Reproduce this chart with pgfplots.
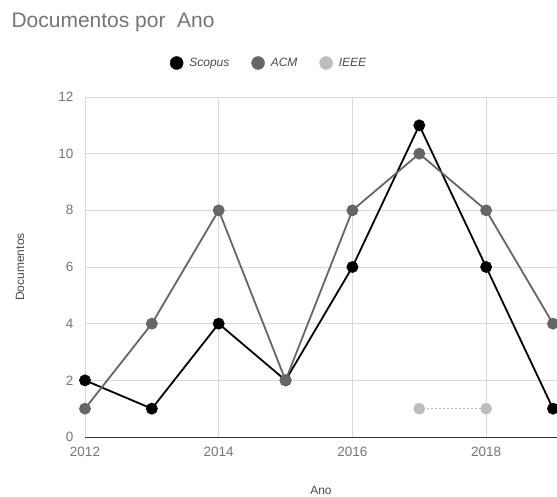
\documentclass[border=0pt]{standalone}
\usepackage{pgfplots}
\pgfplotsset{compat=1.18}
\usepackage{fontspec}
\setmainfont{Liberation Sans}

\definecolor{scopus}{HTML}{000000}
\definecolor{acm}{HTML}{666666}
\definecolor{ieee}{HTML}{BDBDBD}
\definecolor{gridc}{HTML}{D9D9D9}
\definecolor{tickc}{HTML}{757575}
\definecolor{labelc}{HTML}{4A4A4A}

\begin{document}
\begin{tikzpicture}
% page frame: plot area spans (0,0)--(472pt,340pt)
\useasboundingbox (-85pt,-59pt) rectangle (472pt,437pt);
\begin{axis}[
  at={(0pt,0pt)}, anchor=south west,
  scale only axis, width=472pt, height=340pt,
  xmin=2012, xmax=2019.06, ymin=0, ymax=12,
  xtick={2012,2014,2016,2018}, ytick={0,2,...,12},
  xticklabel style={/pgf/number format/1000 sep={}, color=tickc, font=\fontsize{13.5}{15}\selectfont, yshift=-7pt},
  yticklabel style={color=tickc, font=\fontsize{13.5}{15}\selectfont, xshift=-8pt},
  /pgf/number format/assume math mode=true,
  major tick length=0pt,
  axis line style={draw=none},
  grid=major,
  major grid style={color=gridc, line width=0.9pt},
  clip=false,
  xlabel={Ano}, ylabel={Documentos},
  every axis x label/.style={at={(axis description cs:0.5,0)}, anchor=center, yshift=-53pt, font=\fontsize{12}{14}\selectfont, color=labelc},
  every axis y label/.style={at={(axis description cs:0,0.5)}, anchor=center, rotate=90, yshift=65pt, font=\fontsize{12}{14}\selectfont, color=labelc},
  legend columns=3,
  legend style={at={(rel axis cs:0.39,1.1)}, anchor=center, draw=none, fill=none,
    font=\itshape\fontsize{12}{14}\selectfont, text=labelc,
    /tikz/every even column/.style={column sep=20pt}},
  legend cell align=left,
]
\addlegendimage{legend image code/.code={\fill[scopus] (6.5pt,0pt) circle (6.5pt); \path (0pt,0pt) (17pt,0pt);}}
\addlegendentry{Scopus}
\addlegendimage{legend image code/.code={\fill[acm] (6.5pt,0pt) circle (6.5pt); \path (0pt,0pt) (17pt,0pt);}}
\addlegendentry{ACM}
\addlegendimage{legend image code/.code={\fill[ieee] (6.5pt,0pt) circle (6.5pt); \path (0pt,0pt) (17pt,0pt);}}
\addlegendentry{IEEE}

% bottom baseline
\draw[color=darkgray!80!black, line width=1pt] (rel axis cs:0,0) -- (rel axis cs:1.05,0);

\addplot[forget plot, color=scopus, line width=1.8pt, mark=*, mark size=5pt, mark options={fill=scopus, draw=scopus}]
  coordinates {(2012,2) (2013,1) (2014,4) (2015,2) (2016,6) (2017,11) (2018,6) (2019,1)};
\addplot[forget plot, color=acm, line width=1.8pt, mark=*, mark size=5pt, mark options={fill=acm, draw=acm}]
  coordinates {(2012,1) (2013,4) (2014,8) (2015,2) (2016,8) (2017,10) (2018,8) (2019,4)};
\addplot[forget plot, color=ieee, line width=1.6pt, dash pattern=on 1.6pt off 2.4pt, mark=*, mark size=5pt, mark options={solid, fill=ieee, draw=ieee}]
  coordinates {(2017,1) (2018,1)};
\end{axis}
\node[anchor=base west, color=tickc, font=\fontsize{21}{24}\selectfont] at (-77pt,409pt) {Documentos por\ \ Ano};
\end{tikzpicture}
\end{document}
